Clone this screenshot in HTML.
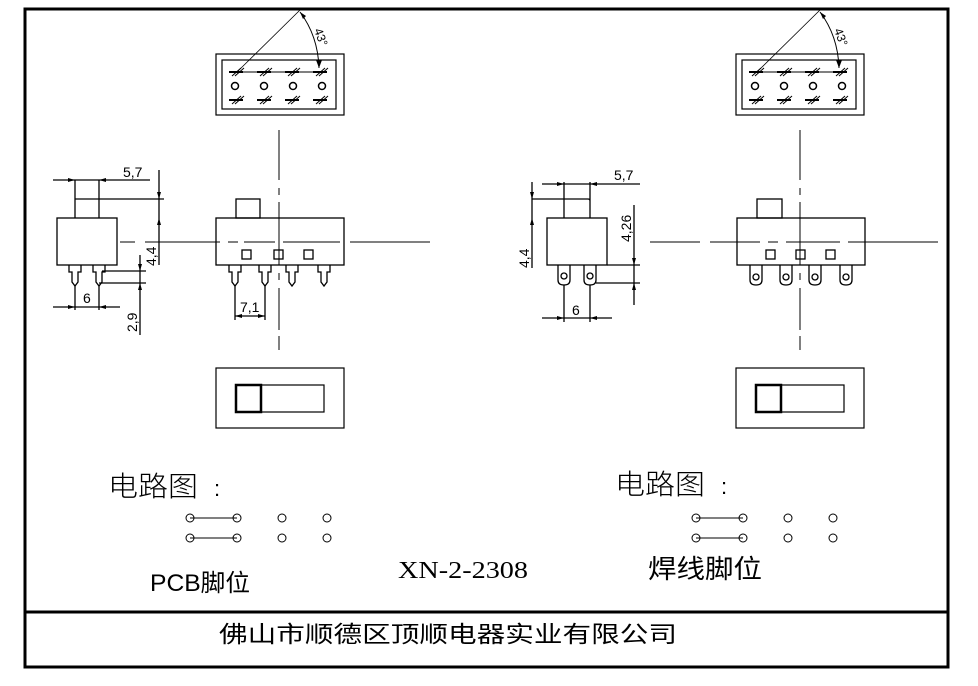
<!DOCTYPE html>
<html><head><meta charset="utf-8"><style>
html,body{margin:0;padding:0;background:#fff}
svg{display:block}
text{fill:#000}
</style></head><body>
<svg width="978" height="686" viewBox="0 0 978 686" xmlns="http://www.w3.org/2000/svg" font-family="Liberation Sans, sans-serif">
<defs>
<g id="xpin"><line x1="-8" y1="0" x2="6" y2="0" stroke="#000" stroke-width="2"/><line x1="-5" y1="4" x2="4" y2="-4" stroke="#000" stroke-width="1"/><line x1="-2" y1="4" x2="7" y2="-4" stroke="#000" stroke-width="1"/></g>
<g id="opin"><circle cx="0" cy="0" r="3.5" fill="none" stroke="#000" stroke-width="1.5"/></g>
<g id="topview">
<rect x="216" y="54" width="128" height="61" fill="none" stroke="#000" stroke-width="1.2"/>
<rect x="222" y="60" width="114" height="49" fill="none" stroke="#000" stroke-width="1.2"/>
<line x1="237" y1="72" x2="322" y2="72" stroke="#000" stroke-width="1"/>
<use href="#xpin" x="237" y="72"/><use href="#xpin" x="265" y="72"/><use href="#xpin" x="293" y="72"/><use href="#xpin" x="321" y="72"/>
<use href="#opin" x="235" y="86"/><use href="#opin" x="264" y="86"/><use href="#opin" x="293" y="86"/><use href="#opin" x="322" y="86"/>
<use href="#xpin" x="237" y="100"/><use href="#xpin" x="265" y="100"/><use href="#xpin" x="293" y="100"/><use href="#xpin" x="321" y="100"/>
<line x1="237" y1="72" x2="300" y2="10" stroke="#000" stroke-width="0.8"/>
<path d="M300 12 Q318 36 319 68" fill="none" stroke="#000" stroke-width="1"/>
<polygon points="300,12 306,16 303,19" fill="#000"/>
<polygon points="319,68 316,60 322,60" fill="#000"/>
<text x="0" y="0" font-size="12" transform="translate(314,30) rotate(70)">43°</text>
</g>
<g id="slide">
<rect x="216" y="368" width="128" height="60" fill="none" stroke="#000" stroke-width="1.2"/>
<rect x="236" y="385" width="88" height="27" fill="none" stroke="#000" stroke-width="1.2"/>
<rect x="236" y="385" width="25" height="27" fill="none" stroke="#000" stroke-width="2.5"/>
</g>
<g id="circ">
<circle cx="0" cy="0" r="4" fill="none" stroke="#000"/><circle cx="47" cy="0" r="4" fill="none" stroke="#000"/>
<line x1="0" y1="0" x2="47" y2="0" stroke="#000"/>
<circle cx="92" cy="0" r="4" fill="none" stroke="#000"/><circle cx="137" cy="0" r="4" fill="none" stroke="#000"/>
<circle cx="0" cy="20" r="4" fill="none" stroke="#000"/><circle cx="47" cy="20" r="4" fill="none" stroke="#000"/>
<line x1="0" y1="20" x2="47" y2="20" stroke="#000"/>
<circle cx="92" cy="20" r="4" fill="none" stroke="#000"/><circle cx="137" cy="20" r="4" fill="none" stroke="#000"/>
</g>
</defs>

<path d="M25 9 H948 V667 H25 Z" fill="none" stroke="#000" stroke-width="3"/>
<line x1="25" y1="612" x2="948" y2="612" stroke="#000" stroke-width="3"/>

<use href="#topview"/>
<use href="#topview" x="520"/>
<use href="#slide"/>
<use href="#slide" x="520"/>

<g stroke="#000" stroke-width="1" fill="none">
<path d="M279 130V180 M279 188V195 M279 202V265 M279 273V280 M279 288V330 M279 336V350"/>
<path d="M120 242H135 M145 242H220 M228 242H238 M244 242H275 M283 242H340 M350 242H430"/>
<path d="M800 130V180 M800 188V195 M800 202V265 M800 273V280 M800 288V330 M800 336V350"/>
<path d="M650 242H700 M710 242H760 M768 242H778 M786 242H840 M848 242H938"/>
</g>

<g stroke="#000" stroke-width="1.3" fill="none">
<rect x="57" y="218" width="60" height="47"/>
<path d="M75 218V180 M99 218V180 M75 199H164"/>
<path d="M53 180H150"/>
<path d="M159 170V265"/>
<path d="M69 265V272H72V282L75 286L78 282V272H81V265"/>
<path d="M93 265V272H96V282L99 286L102 282V272H105V265"/>
<path d="M102 271H146 M99 283H146 M140 255V335"/>
<path d="M75 286V310 M99 286V310 M53 307H120"/>
</g>
<g fill="#000">
<polygon points="75,180 68,178 68,182"/><polygon points="99,180 106,178 106,182"/>
<polygon points="159,199 157,192 161,192"/><polygon points="159,218 157,225 161,225"/>
<polygon points="140,271 138,264 142,264"/><polygon points="140,283 138,290 142,290"/>
<polygon points="75,307 68,305 68,309"/><polygon points="99,307 106,305 106,309"/>
</g>
<text x="123" y="177" font-size="14">5,7</text>
<text font-size="14" transform="translate(156,266) rotate(-90)">4,4</text>
<text font-size="14" transform="translate(137,332) rotate(-90)">2,9</text>
<text x="83" y="303" font-size="14">6</text>

<g stroke="#000" stroke-width="1.3" fill="none">
<rect x="216" y="218" width="128" height="47"/>
<rect x="236" y="199" width="24" height="19"/>
<rect x="242" y="250" width="9" height="9"/><rect x="274" y="250" width="9" height="9"/><rect x="304" y="250" width="9" height="9"/>
<path d="M229 265V272H232V282L235 286L238 282V272H241V265"/>
<path d="M259 265V272H262V282L265 286L268 282V272H271V265"/>
<path d="M286 265V272H289V282L292 286L295 282V272H298V265"/>
<path d="M318 265V272H321V282L324 286L327 282V272H330V265"/>
<path d="M235 286V320 M265 286V320 M235 316H265"/>
</g>
<g fill="#000"><polygon points="235,316 242,314 242,318"/><polygon points="265,316 258,314 258,318"/></g>
<text x="240" y="312" font-size="14">7,1</text>

<g stroke="#000" stroke-width="1.3" fill="none">
<rect x="547" y="218" width="60" height="47"/>
<path d="M564 218V182 M590 218V182 M532 199H588 Q590 199 590 201"/>
<path d="M542 184H640"/>
<path d="M532 182V268"/>
<path d="M558 265V280Q558 285 564 285Q570 285 570 280V265"/>
<path d="M584 265V280Q584 285 590 285Q596 285 596 280V265"/>
<circle cx="564" cy="276" r="3"/><circle cx="590" cy="276" r="3"/>
<path d="M607 265H640 M596 283H640 M634 205V305"/>
<path d="M564 285V322 M590 285V322 M542 318H612"/>
</g>
<g fill="#000">
<polygon points="564,184 557,182 557,186"/><polygon points="590,184 597,182 597,186"/>
<polygon points="532,199 530,192 534,192"/><polygon points="532,218 530,225 534,225"/>
<polygon points="634,265 632,258 636,258"/><polygon points="634,283 632,290 636,290"/>
<polygon points="564,318 557,316 557,320"/><polygon points="590,318 597,316 597,320"/>
</g>
<text x="614" y="180" font-size="14">5,7</text>
<text font-size="14" transform="translate(529,268) rotate(-90)">4,4</text>
<text font-size="14" transform="translate(631,242) rotate(-90)">4,26</text>
<text x="572" y="315" font-size="14">6</text>

<g stroke="#000" stroke-width="1.3" fill="none">
<rect x="737" y="218" width="128" height="47"/>
<rect x="757" y="199" width="25" height="19"/>
<rect x="766" y="250" width="9" height="9"/><rect x="796" y="250" width="9" height="9"/><rect x="826" y="250" width="9" height="9"/>
<path d="M750 265V280Q750 285 756 285Q762 285 762 280V265"/>
<path d="M780 265V280Q780 285 786 285Q792 285 792 280V265"/>
<path d="M809 265V280Q809 285 815 285Q821 285 821 280V265"/>
<path d="M840 265V280Q840 285 846 285Q852 285 852 280V265"/>
<circle cx="756" cy="277" r="3"/><circle cx="786" cy="277" r="3"/><circle cx="815" cy="277" r="3"/><circle cx="846" cy="277" r="3"/>
</g>

<text x="108" y="496" font-size="28" font-family="Liberation Sans, Noto Sans CJK SC, sans-serif" font-weight="300" textLength="90" lengthAdjust="spacingAndGlyphs">电路图</text>
<text x="214" y="496" font-size="22">:</text>
<use href="#circ" x="190" y="518"/>
<text x="615" y="494" font-size="28" font-family="Liberation Sans, Noto Sans CJK SC, sans-serif" font-weight="300" textLength="90" lengthAdjust="spacingAndGlyphs">电路图</text>
<text x="721" y="494" font-size="22">:</text>
<use href="#circ" x="696" y="518"/>

<text x="150" y="591" font-size="24" font-family="Liberation Sans, Noto Sans CJK SC, sans-serif" textLength="100" lengthAdjust="spacingAndGlyphs">PCB脚位</text>
<text x="398" y="578" font-size="24" font-family="Liberation Serif, serif" textLength="130" lengthAdjust="spacingAndGlyphs">XN-2-2308</text>
<text x="648" y="578" font-size="26" font-family="Liberation Sans, Noto Sans CJK SC, sans-serif" textLength="114" lengthAdjust="spacingAndGlyphs">焊线脚位</text>
<text x="219" y="642" font-size="23" font-family="Liberation Sans, Noto Sans CJK SC, sans-serif" textLength="458" lengthAdjust="spacingAndGlyphs">佛山市顺德区顶顺电器实业有限公司</text>
</svg>
</body></html>
